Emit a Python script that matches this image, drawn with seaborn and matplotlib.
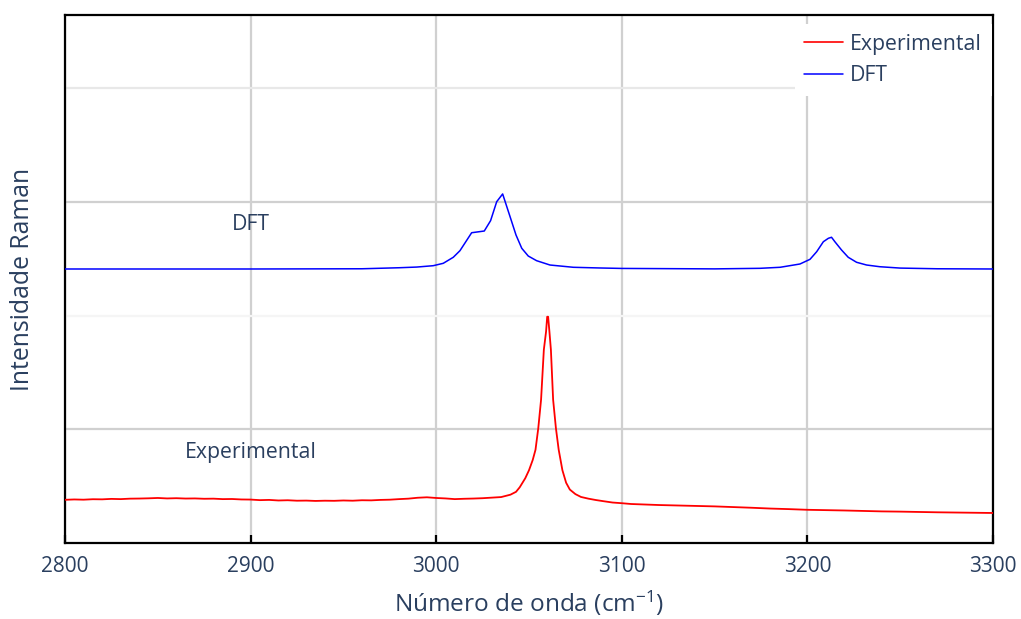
import matplotlib
matplotlib.use("Agg")
import matplotlib.pyplot as plt
from matplotlib.lines import Line2D
import seaborn as sns
import pandas as pd

# ---- data ----
exp_x = [2800, 2805, 2810, 2815, 2820, 2825, 2830, 2835, 2840, 2845, 2850, 2855, 2860, 2865,
         2870, 2875, 2880, 2885, 2890, 2895, 2900, 2905, 2910, 2915, 2920, 2925, 2930, 2935,
         2940, 2945, 2950, 2955, 2960, 2965, 2970, 2975, 2980, 2985, 2990, 2995, 3000, 3005,
         3010, 3015, 3020, 3025, 3030, 3035, 3040, 3043, 3045, 3048, 3050, 3052, 3053.5, 3055,
         3056.5, 3058, 3059.2, 3059.8, 3060.3, 3061, 3061.8, 3063, 3064.5, 3066, 3068, 3070,
         3072, 3075, 3078, 3082, 3086, 3090, 3095, 3100, 3105, 3110, 3120, 3130, 3140, 3150,
         3160, 3170, 3180, 3190, 3200, 3210, 3220, 3230, 3240, 3250, 3260, 3270, 3280, 3290, 3300]
exp_y = [0.380, 0.383, 0.381, 0.385, 0.384, 0.388, 0.386, 0.390, 0.391, 0.393, 0.396, 0.392,
         0.394, 0.391, 0.392, 0.389, 0.390, 0.386, 0.387, 0.383, 0.382, 0.377, 0.379, 0.374,
         0.376, 0.372, 0.373, 0.370, 0.372, 0.371, 0.374, 0.372, 0.376, 0.375, 0.379, 0.381,
         0.386, 0.390, 0.398, 0.402, 0.396, 0.392, 0.386, 0.389, 0.391, 0.394, 0.399, 0.404,
         0.425, 0.45, 0.49, 0.57, 0.64, 0.73, 0.82, 1.01, 1.26, 1.70, 1.86, 1.99, 1.99, 1.86,
         1.70, 1.26, 1.01, 0.82, 0.64, 0.53, 0.47, 0.43, 0.405, 0.39, 0.378, 0.368, 0.356,
         0.350, 0.343, 0.340, 0.334, 0.330, 0.326, 0.322, 0.316, 0.310, 0.303, 0.298, 0.292,
         0.289, 0.286, 0.282, 0.278, 0.276, 0.273, 0.270, 0.268, 0.266, 0.264]

dft_x = [2800, 2900, 2960, 2980, 2989.5, 2998.4, 3003.8, 3009.2, 3012.8, 3019.1, 3025.9,
         3029.3, 3032.6, 3035.8, 3039.8, 3043, 3046.1, 3049.6, 3054.1, 3061.3, 3073.9, 3088,
         3100, 3150, 3174.5, 3185.3, 3196, 3201.4, 3205, 3208.6, 3211.3, 3213, 3214.8, 3218.4,
         3222, 3226.5, 3231.9, 3239, 3250, 3270, 3300]
dft_y = [2.410, 2.410, 2.412, 2.421, 2.427, 2.439, 2.460, 2.513, 2.571, 2.729, 2.744,
         2.835, 3.002, 3.070, 2.870, 2.709, 2.592, 2.524, 2.483, 2.445, 2.425, 2.419,
         2.415, 2.411, 2.416, 2.425, 2.454, 2.495, 2.562, 2.650, 2.680, 2.689, 2.650, 2.577,
         2.513, 2.469, 2.445, 2.430, 2.418, 2.412, 2.410]

x_ticks = [2800, 2900, 3000, 3100, 3200, 3300]
series_names = ["Experimental", "DFT"]
x_label = "Número de onda (cm$^{-1}$)"
y_label = "Intensidade Raman"

# ---- styling ----
sns.set_theme(style="white")
plt.rcParams['font.family'] = ['Open Sans', 'DejaVu Sans']
plt.rcParams['mathtext.fontset'] = 'custom'
plt.rcParams['mathtext.rm'] = 'Open Sans'
plt.rcParams['mathtext.it'] = 'Open Sans'
text_color = "#2a3f5f"

fig = plt.figure(figsize=(10.21, 6.19), dpi=100)
ax = fig.add_axes([65 / 1021, 1 - 543 / 619, (993 - 65) / 1021, (543 - 15) / 619])

df_exp = pd.DataFrame({"x": exp_x, "y": exp_y})
df_dft = pd.DataFrame({"x": dft_x, "y": dft_y})
sns.lineplot(data=df_exp, x="x", y="y", ax=ax, color="#ff0000", linewidth=1.3,
             sort=False, estimator=None, zorder=5)
sns.lineplot(data=df_dft, x="x", y="y", ax=ax, color="#0000ff", linewidth=1.1,
             sort=False, estimator=None, zorder=5)

ax.set_xlim(2800, 3300)
ax.set_ylim(0, 4.644)
ax.set_xticks(x_ticks)
ax.set_yticks([1, 3])
ax.set_yticklabels([])
ax.grid(True, color="#d0d0d0", linewidth=1.6, zorder=1)
ax.set_axisbelow(True)
# faint secondary horizontal lines
ax.axhline(4, color="#e8e8e8", linewidth=1.6, zorder=2)
ax.axhline(2, color="#f5f5f5", linewidth=1.6, zorder=2)

for s in ax.spines.values():
    s.set_color("black")
    s.set_linewidth(1.6)

ax.tick_params(axis="x", direction="in", length=6, width=1.6, color="black",
               labelsize=15, labelcolor=text_color, pad=9, bottom=True)
ax.tick_params(axis="y", left=False, length=0)

ax.set_xlabel(x_label, fontsize=17.6, color=text_color, labelpad=9)
ax.set_ylabel(y_label, fontsize=17.8, color=text_color)
ax.yaxis.set_label_coords(-30 / 928, 0.5)

ax.text(2900, 2.805, "DFT", ha="center", va="center", fontsize=15.3, color=text_color, zorder=6)
ax.text(2900, 0.800, "Experimental", ha="center", va="center", fontsize=15.3,
        color=text_color, zorder=6)

handles = [Line2D([0], [0], color="#ff0000", lw=1.2),
           Line2D([0], [0], color="#0000ff", lw=1.1)]
leg = ax.legend(handles, series_names, loc="upper right", frameon=True, fancybox=False,
                facecolor="white", edgecolor="none", framealpha=1,
                bbox_to_anchor=(1.0 - 1.5 / 928, 1.0 - 9 / 528), borderaxespad=0.0,
                fontsize=15.3, handlelength=1.8, handletextpad=0.35, labelspacing=0.5,
                borderpad=0.45)
for t in leg.get_texts():
    t.set_color(text_color)
leg.set_zorder(10)

fig.savefig("out.png", dpi=100)
